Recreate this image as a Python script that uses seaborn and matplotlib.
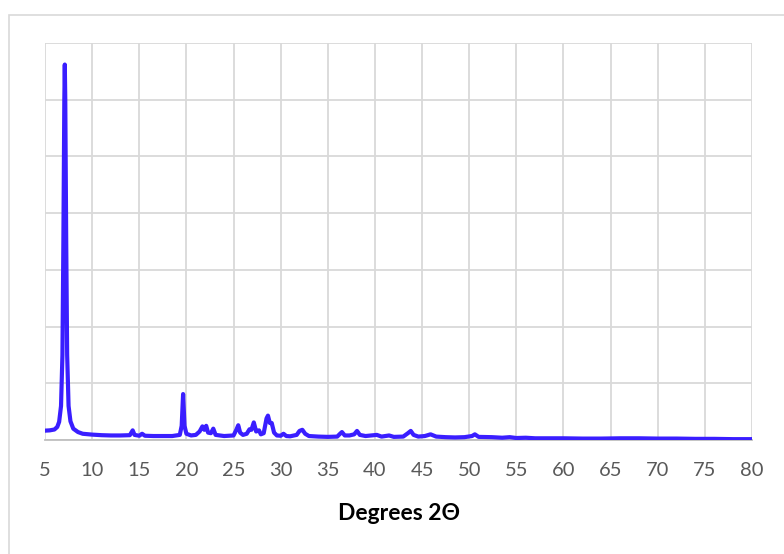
import matplotlib
matplotlib.use("Agg")
import matplotlib.pyplot as plt
import seaborn as sns
import pandas as pd
from matplotlib.patches import Rectangle

# Data (intensity in arbitrary units)
two_theta = [5.0, 5.5, 6.0, 6.3, 6.5, 6.7, 6.85, 6.95, 7.05, 7.1, 7.15, 7.25, 7.35, 7.5, 7.7,
             8.0, 8.5, 9.0, 10.0, 11.0, 12.0, 13.0, 14.0, 14.3, 14.5, 15.0, 15.3, 15.6, 16.5,
             17.5, 18.5, 19.3, 19.5, 19.65, 19.8, 20.0, 20.5, 21.0, 21.4, 21.7, 21.9, 22.1,
             22.3, 22.6, 22.85, 23.1, 24.0, 25.0, 25.3, 25.5, 25.7, 26.0, 26.4, 26.7, 26.9,
             27.15, 27.4, 27.7, 27.9, 28.2, 28.5, 28.65, 28.85, 29.05, 29.3, 29.6, 30.0, 30.3,
             30.6, 31.0, 31.7, 32.0, 32.3, 32.6, 33.0, 34.0, 35.0, 36.0, 36.3, 36.5, 36.8,
             37.3, 37.8, 38.1, 38.4, 39.0, 39.6, 40.2, 40.7, 41.5, 42.0, 43.0, 43.5, 43.8,
             44.1, 44.6, 45.3, 45.9, 46.5, 47.5, 48.5, 49.5, 50.3, 50.6, 51.0, 52.4, 53.5,
             54.3, 55.0, 56.0, 57.0, 58.0, 60.0, 62.0, 64.0, 66.0, 68.0, 70.0, 72.0, 74.0,
             76.0, 78.0, 80.0]
intensity = [165, 170, 185, 230, 320, 600, 1500, 3500, 6000, 6620, 6000, 3500, 1500, 600, 330,
             200, 140, 110, 95, 85, 80, 80, 85, 170, 90, 75, 110, 75, 70,
             70, 70, 90, 250, 810, 250, 110, 80, 90, 150, 240, 180, 250,
             130, 120, 200, 90, 70, 80, 180, 260, 130, 90, 110, 190, 180,
             310, 150, 170, 100, 120, 380, 430, 300, 300, 130, 80, 75, 110,
             70, 65, 90, 160, 180, 110, 70, 60, 55, 60, 110, 140, 80,
             80, 100, 160, 90, 70, 80, 90, 60, 80, 55, 60, 120, 160,
             90, 60, 70, 100, 60, 50, 45, 50, 70, 100, 55, 50, 40,
             50, 35, 40, 30, 30, 30, 25, 25, 30, 30, 25, 25, 20,
             20, 15, 15]
x_ticks = [5, 10, 15, 20, 25, 30, 35, 40, 45, 50, 55, 60, 65, 70, 75, 80]
y_grid = [0, 1000, 2000, 3000, 4000, 5000, 6000, 7000]
x_label = "Degrees 2\u0398"

sns.set_theme(style="white")
plt.rcParams['font.family'] = ['Lato', 'DejaVu Sans']

fig = plt.figure(figsize=(7.84, 5.54), dpi=100)
W, H = 784, 554
ax = fig.add_axes([45 / W, 1 - 440 / H, (752 - 45) / W, (440 - 43) / H])

# outer chart border
fig.patches.append(Rectangle((9 / W, -0.2), 2.0, 1 - 15 / H + 0.2, transform=fig.transFigure,
                             fill=False, edgecolor="#D9D9D9", linewidth=1.2, zorder=0))

df = pd.DataFrame({"two_theta": two_theta, "intensity": intensity})
sns.lineplot(data=df, x="two_theta", y="intensity", ax=ax, color="#3A1EFF",
             linewidth=3.0, estimator=None, sort=False, zorder=3)

ax.set_xlim(5, 80)
ax.set_ylim(0, 7000)
ax.set_xticks(x_ticks)
ax.set_xticklabels([str(t) for t in x_ticks])
ax.set_yticks(y_grid)
ax.set_yticklabels([])
ax.grid(True, color="#D9D9D9", linewidth=1.3)
ax.set_axisbelow(True)
for s in ["top", "right", "left"]:
    ax.spines[s].set_visible(False)
ax.spines["bottom"].set_color("#BFBFBF")
ax.spines["bottom"].set_linewidth(1.3)
ax.spines["bottom"].set_zorder(2)
ax.tick_params(axis="x", length=0, pad=16, labelsize=14.5, labelcolor="#595959")
ax.tick_params(axis="y", length=0)
ax.set_xlabel(x_label, fontsize=16.5, fontweight="bold", color="black", labelpad=17)
ax.set_ylabel("")

fig.savefig("out.png", dpi=100)
